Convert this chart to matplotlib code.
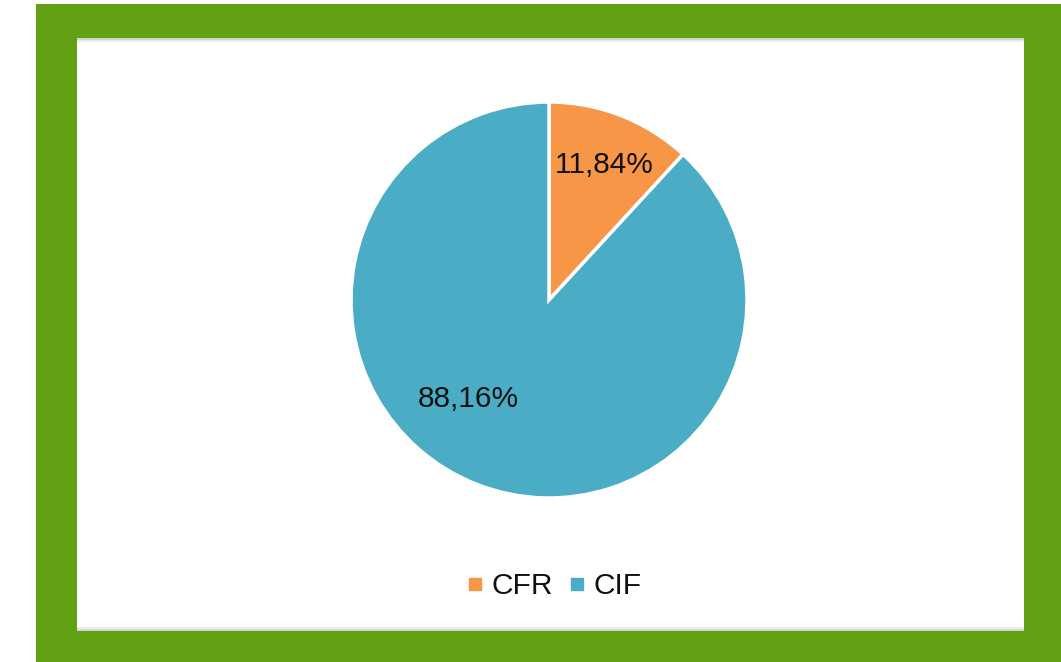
import matplotlib.pyplot as plt
from matplotlib.patches import Rectangle
from matplotlib.lines import Line2D

labels = ["CFR", "CIF"]
shares = [11.84, 88.16]
colors = ["#F79646", "#4BACC6"]

W, H = 1061, 662
plt.rcParams["font.family"] = ["Liberation Sans", "DejaVu Sans"]

fig = plt.figure(figsize=(W / 100, H / 100), dpi=100)
fig.patch.set_facecolor("white")


def px_rect(x0, y0, x1, y1, color, z):
    """Rectangle in figure pixel coords (y from top)."""
    fig.patches.append(Rectangle((x0 / W, 1 - y1 / H), (x1 - x0) / W, (y1 - y0) / H,
                                 transform=fig.transFigure, color=color, zorder=z, lw=0))


# green frame, inner white panel with faint shadow lines
px_rect(36, 4, W, H, "#62A014", 0)
px_rect(77, 38, 1024, 631, "#D4D4D4", 1)
px_rect(77, 40, 1024, 629, "#ECECEC", 1)
px_rect(77, 42, 1024, 627, "white", 1)

cx, cy, r = 549, 300, 198
ax = fig.add_axes([(cx - r) / W, 1 - (cy + r) / H, 2 * r / W, 2 * r / H])
ax.set_zorder(2)
wedges, texts = ax.pie(shares, colors=colors, startangle=90, counterclock=False,
                       wedgeprops=dict(edgecolor="white", linewidth=2.5))
ax.set_xlim(-1, 1)
ax.set_ylim(-1, 1)
ax.set_aspect("equal")
ax.axis("off")

# data labels
label_pos = [(0.28, 0.68), (-0.41, -0.5)]
for v, (x, y) in zip(shares, label_pos):
    ax.text(x, y, f"{v:.2f}%".replace(".", ","), ha="center", va="center",
            fontsize=21.5, color="#111111")

handles = [Line2D([0], [0], marker="s", linestyle="none", markersize=8,
                  markerfacecolor=c, markeredgecolor=c) for c in colors]
leg = fig.legend(handles, labels, loc="center", bbox_to_anchor=(554 / W, 1 - 586 / H),
                 ncol=2, frameon=False, fontsize=21.5, handlelength=0.6,
                 handletextpad=0.25, columnspacing=0.5)
for t in leg.get_texts():
    t.set_color("#111111")
leg.set_zorder(3)

fig.savefig("out.png", dpi=100)
